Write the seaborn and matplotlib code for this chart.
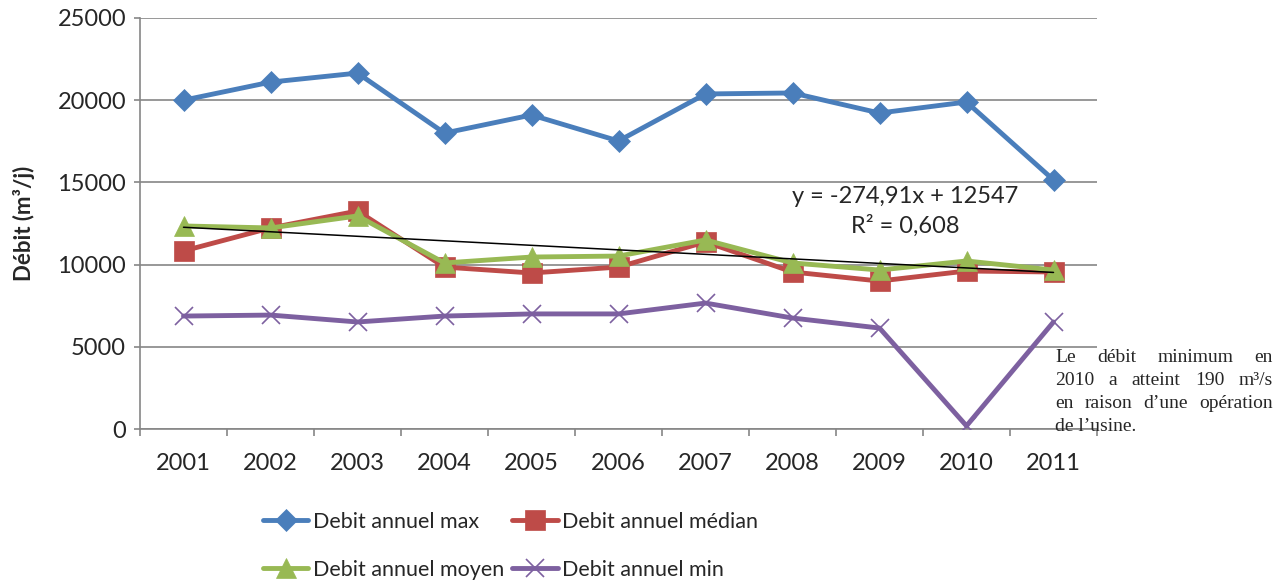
"""Debit annuel 2001-2011 avec droite de tendance."""

import matplotlib
matplotlib.use("Agg")
import matplotlib.pyplot as plt
import numpy as np
import pandas as pd
import seaborn as sns

years = ["2001", "2002", "2003", "2004", "2005", "2006",
         "2007", "2008", "2009", "2010", "2011"]
debit_max = [20000, 21100, 21650, 18000, 19100, 17520,
             20380, 20440, 19220, 19890, 15150]
debit_median = [10830, 12230, 13260, 9850, 9490, 9850,
                11380, 9550, 9000, 9610, 9550]
debit_moyen = [12350, 12230, 12960, 10100, 10460, 10520,
               11500, 10100, 9670, 10220, 9670]
debit_min = [6870, 6930, 6510, 6870, 7000, 7000,
             7660, 6750, 6140, 190, 6510]
trend_slope = -274.91
trend_intercept = 12547
trend_r2 = "0,608"

series_labels = ["Debit annuel max", "Debit annuel médian",
                 "Debit annuel moyen", "Debit annuel min"]
note_lines = ["Le débit minimum en", "2010 a atteint 190 m³/s",
              "en raison d’une opération", "de l’usine."]

COLORS = ["#4A7EBB", "#BE4B48", "#98B954", "#7D60A0"]
MARKERS = [("D", 11), ("s", 14), ("^", 14), ("x", 13.5)]

sns.set_style("white")
plt.rcParams["font.family"] = ["Lato", "DejaVu Sans"]

df = pd.DataFrame({
    "pos": np.arange(len(years)),
    series_labels[0]: debit_max,
    series_labels[1]: debit_median,
    series_labels[2]: debit_moyen,
    series_labels[3]: debit_min,
})
df["trend"] = trend_slope * (df["pos"] + 1) + trend_intercept

fig = plt.figure(figsize=(12.84, 5.82), dpi=100)
ax = fig.add_axes([140 / 1284, 1 - 429 / 582, (1097 - 140) / 1284, (429 - 18) / 582])

handles = []
for label, color, (marker, size) in zip(series_labels, COLORS, MARKERS):
    sns.lineplot(
        data=df, x="pos", y=label, ax=ax, color=color, linewidth=3.5,
        marker=marker, markersize=size, markeredgecolor=color,
        markeredgewidth=1.2 if marker == "x" else 0.5,
        label=label, legend=False, zorder=3,
    )
    handles.append(ax.lines[-1])

sns.lineplot(data=df, x="pos", y="trend", ax=ax, color="black",
             linewidth=1.1, legend=False, zorder=4)

ax.set_xlim(-0.5, len(years) - 0.5)
ax.set_ylim(0, 25000)
ax.set_yticks(np.arange(0, 25001, 5000))
ax.set_xticks(df["pos"])
ax.set_xticklabels(years)
ax.set_xticks(np.arange(-0.5, len(years), 1), minor=True)
ax.tick_params(axis="x", which="major", length=0, pad=17, labelsize=17)
ax.tick_params(axis="x", which="minor", length=5, width=1.2, color="#868686",
               direction="out", bottom=True)
ax.tick_params(axis="y", length=4, width=1.2, color="#868686",
               direction="out", left=True, pad=6, labelsize=17)
ax.grid(axis="y", color="#868686", linewidth=1.2)
ax.set_axisbelow(True)
for side in ["top", "right"]:
    ax.spines[side].set_visible(False)
for side in ["left", "bottom"]:
    ax.spines[side].set_color("#868686")
    ax.spines[side].set_linewidth(1.2)

ax.set_xlabel("")
ax.set_ylabel("Débit (m³/j)", fontsize=16, fontweight="bold", labelpad=16)

ax.text(8.3, 13230, f"y = {trend_slope:.2f}x + {trend_intercept}".replace(".", ",")
        + f"\nR² = {trend_r2}", ha="center", va="center", fontsize=17,
        linespacing=1.4, zorder=5)

# justified note on the right
renderer = fig.canvas.get_renderer()
left_px, right_px = 1055, 1273
baselines = [362, 385, 408, 431]
for i, (line, base) in enumerate(zip(note_lines, baselines)):
    words = line.split(" ")
    y = 1 - base / 582
    if i == len(note_lines) - 1:
        fig.text(left_px / 1284, y, line, family="Liberation Serif",
                 fontsize=14, va="baseline", ha="left")
        continue
    texts = [fig.text(0, y, w, family="Liberation Serif", fontsize=14,
                      va="baseline", ha="left") for w in words]
    widths = [t.get_window_extent(renderer).width for t in texts]
    gap = (right_px - left_px - sum(widths)) / (len(words) - 1)
    x = left_px
    for t, w in zip(texts, widths):
        t.set_x(x / 1284)
        x += w + gap

order = [0, 2, 1, 3]
fig.legend(
    [handles[i] for i in order], [series_labels[i] for i in order],
    loc="upper left", bbox_to_anchor=(263 / 1284, 1 - 512 / 582),
    ncol=2, frameon=False, fontsize=15.5, handlelength=2.1,
    handletextpad=0.2, columnspacing=0.4, labelspacing=1.3,
    borderpad=0, borderaxespad=0,
)

fig.savefig("out.png", dpi=100)
plt.close(fig)
